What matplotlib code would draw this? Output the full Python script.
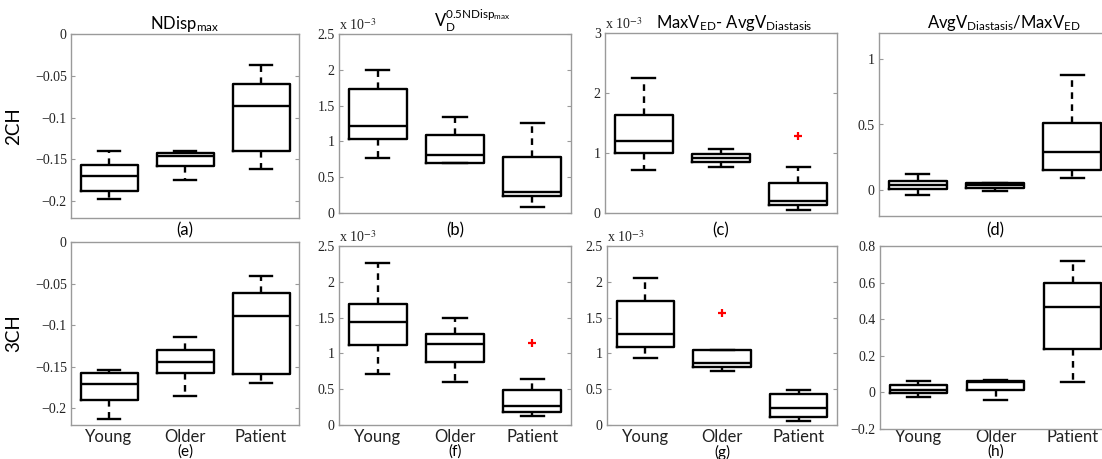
import matplotlib
matplotlib.use("Agg")
import matplotlib.pyplot as plt
from matplotlib.ticker import FuncFormatter, FixedLocator

# groups on the x axis
groups = ["Young", "Older", "Patient"]

# five-number summaries per group: [whisker low, q1, median, q3, whisker high]
ndisp_2ch = [[-0.197, -0.188, -0.1695, -0.1563, -0.1403],
             [-0.1743, -0.1575, -0.1455, -0.1423, -0.1396],
             [-0.161, -0.1395, -0.0865, -0.0598, -0.0367]]
vd_2ch = [[0.775e-3, 1.027e-3, 1.213e-3, 1.737e-3, 2.0e-3],
          [0.695e-3, 0.70e-3, 0.812e-3, 1.087e-3, 1.339e-3],
          [0.084e-3, 0.233e-3, 0.289e-3, 0.779e-3, 1.26e-3]]
diff_2ch = [[0.725e-3, 1.0e-3, 1.194e-3, 1.64e-3, 2.25e-3],
            [0.765e-3, 0.843e-3, 0.91e-3, 0.983e-3, 1.067e-3],
            [0.05e-3, 0.139e-3, 0.196e-3, 0.508e-3, 0.759e-3]]
ratio_2ch = [[-0.038, 0.008, 0.038, 0.066, 0.119],
             [-0.005, 0.015, 0.035, 0.053, 0.055],
             [0.089, 0.152, 0.289, 0.513, 0.88]]

ndisp_3ch = [[-0.2127, -0.190, -0.171, -0.1575, -0.1535],
             [-0.1847, -0.1575, -0.1442, -0.1294, -0.1138],
             [-0.1698, -0.159, -0.0886, -0.0609, -0.0409]]
vd_3ch = [[0.706e-3, 1.117e-3, 1.435e-3, 1.696e-3, 2.257e-3],
          [0.598e-3, 0.874e-3, 1.131e-3, 1.266e-3, 1.5e-3],
          [0.126e-3, 0.178e-3, 0.266e-3, 0.486e-3, 0.64e-3]]
diff_3ch = [[0.93e-3, 1.089e-3, 1.271e-3, 1.729e-3, 2.047e-3],
            [0.748e-3, 0.804e-3, 0.869e-3, 1.051e-3, 1.051e-3],
            [0.056e-3, 0.107e-3, 0.243e-3, 0.435e-3, 0.495e-3]]
ratio_3ch = [[-0.026, -0.004, 0.015, 0.042, 0.061],
             [-0.042, 0.011, 0.058, 0.061, 0.066],
             [0.055, 0.235, 0.467, 0.60, 0.717]]

# outliers per group
no_out = [[], [], []]
diff_2ch_out = [[], [], [1.278e-3]]
vd_3ch_out = [[], [], [1.145e-3]]
diff_3ch_out = [[], [1.565e-3], []]

titles = [r"NDisp$_{\mathrm{max}}$",
          r"$\mathrm{V}_{\mathrm{D}}^{\mathrm{0.5NDisp}_{\mathrm{max}}}$",
          r"MaxV$_{\mathrm{ED}}$- AvgV$_{\mathrm{Diastasis}}$",
          r"AvgV$_{\mathrm{Diastasis}}$/MaxV$_{\mathrm{ED}}$"]
title_x = [0.5, 0.573, 0.556, 0.539]
row_labels = ["2CH", "3CH"]
panel_labels = ["(a)", "(b)", "(c)", "(d)", "(e)", "(f)", "(g)", "(h)"]

plt.rcParams["mathtext.fontset"] = "custom"
plt.rcParams["mathtext.rm"] = "Lato"
plt.rcParams["mathtext.it"] = "Lato:italic"
plt.rcParams["mathtext.bf"] = "Lato:bold"

W, H = 1102, 459
SPINE = "#9a9a9a"


def minus(s):
    return s.replace("-", "\u2212")


plain_fmt = FuncFormatter(lambda v, p: minus(f"{round(v, 6):g}"))
milli_fmt = FuncFormatter(lambda v, p: minus(f"{round(v * 1e3, 6):g}"))


def add_panel(fig, box, five, outs, ylim, yticks, milli, bottom_row):
    x0, y0, x1, y1 = box
    ax = fig.add_axes([x0 / W, 1 - y1 / H, (x1 - x0) / W, (y1 - y0) / H])
    stats = [dict(whislo=f[0], q1=f[1], med=f[2], q3=f[3], whishi=f[4], fliers=o)
             for f, o in zip(five, outs)]
    ax.bxp(stats, positions=[1, 2, 3], widths=0.75, capwidths=0.3,
           boxprops=dict(color="black", lw=1.7),
           whiskerprops=dict(color="black", lw=1.7, linestyle=(0, (2.8, 2.3))),
           capprops=dict(color="black", lw=1.7),
           medianprops=dict(color="black", lw=1.7),
           flierprops=dict(marker="+", markeredgecolor="red", markersize=6,
                           markeredgewidth=1.6),
           manage_ticks=False)
    ax.set_xlim(0.5, 3.5)
    ax.set_ylim(*ylim)
    ax.yaxis.set_major_locator(FixedLocator(yticks))
    ax.yaxis.set_major_formatter(milli_fmt if milli else plain_fmt)
    ax.set_xticks([1, 2, 3])
    if bottom_row:
        ax.set_xticklabels(groups, fontfamily="Lato", fontsize=12)
    else:
        ax.set_xticklabels([])
    # keep the bottom-row group labels on one baseline
    xpad = 3 - (y1 - 425) * 0.72
    ax.tick_params(axis="x", length=0, pad=xpad, colors="#222222")
    ax.tick_params(axis="y", direction="in", length=3, left=True, right=True,
                   color=SPINE, labelcolor="#222222", pad=3)
    for lab in ax.get_yticklabels():
        lab.set_fontfamily("Liberation Serif")
        lab.set_fontsize(10)
    for sp in ax.spines.values():
        sp.set_color(SPINE)
        sp.set_linewidth(1)
    if milli:
        ax.text(0.0, 1.004, r"x 10$^{-3}$", transform=ax.transAxes, ha="left",
                va="bottom", fontfamily="Liberation Serif", math_fontfamily="stix",
                fontsize=10, color="#222222")
    return ax


fig = plt.figure(figsize=(W / 100, H / 100), dpi=100)

boxes = [(71, 34, 299, 218), (339, 34, 571, 213), (605, 33, 837, 213), (879, 33, 1111, 216),
         (71, 242, 299, 425), (339, 246, 571, 425), (607, 246, 837, 425), (880, 246, 1111, 429)]
panels = [
    (ndisp_2ch, no_out, (-0.22, 0), [-0.2, -0.15, -0.1, -0.05, 0], False),
    (vd_2ch, no_out, (0, 2.5e-3), [0, 0.5e-3, 1e-3, 1.5e-3, 2e-3, 2.5e-3], True),
    (diff_2ch, diff_2ch_out, (0, 3e-3), [0, 1e-3, 2e-3, 3e-3], True),
    (ratio_2ch, no_out, (-0.2, 1.2), [0, 0.5, 1], False),
    (ndisp_3ch, no_out, (-0.22, 0), [-0.2, -0.15, -0.1, -0.05, 0], False),
    (vd_3ch, vd_3ch_out, (0, 2.5e-3), [0, 0.5e-3, 1e-3, 1.5e-3, 2e-3, 2.5e-3], True),
    (diff_3ch, diff_3ch_out, (0, 2.5e-3), [0, 0.5e-3, 1e-3, 1.5e-3, 2e-3, 2.5e-3], True),
    (ratio_3ch, no_out, (-0.2, 0.8), [-0.2, 0, 0.2, 0.4, 0.6, 0.8], False),
]

for i, (box, (five, outs, ylim, yt, milli)) in enumerate(zip(boxes, panels)):
    bottom_row = i >= 4
    ax = add_panel(fig, box, five, outs, ylim, yt, milli, bottom_row)
    if not bottom_row:
        ax.set_title(titles[i], fontfamily="Lato", fontsize=12, pad=3, x=title_x[i])
    if i % 4 == 0:
        ax.set_ylabel(row_labels[i // 4], fontfamily="Lato", fontsize=13.5)
        ax.yaxis.set_label_coords(-0.215, 0.5)
    cx = (box[0] + box[2]) / 2
    cy = 230 if not bottom_row else 452
    fig.text(cx / W, 1 - cy / H, panel_labels[i], ha="center", va="center",
             fontfamily="Lato", fontsize=12 if not bottom_row else 11)

fig.savefig("out.png", dpi=100)
